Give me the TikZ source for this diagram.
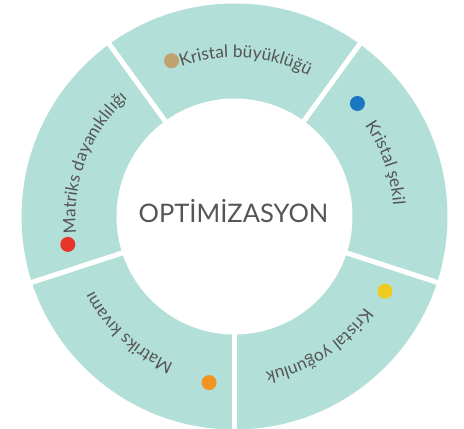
\documentclass[tikz,border=0pt]{standalone}
\usepackage{fontspec}
\setmainfont{Lato}
\usetikzlibrary{decorations.text}
\definecolor{ring}{RGB}{178,223,215}
\definecolor{labeltext}{RGB}{85,85,85}
\definecolor{tan}{RGB}{192,162,110}
\definecolor{azure}{RGB}{26,120,194}
\definecolor{sun}{RGB}{240,202,31}
\definecolor{tangerine}{RGB}{242,147,34}
\definecolor{cherry}{RGB}{232,53,42}
\newcommand\arcfont{\fontsize{17.2}{19}\selectfont\color{labeltext}}
\tikzset{
	dot/.style 2 args={circle,inner sep=0pt,minimum size=15pt,fill=#1,name=#2},
	gap/.style={white,line width=5pt},
	arclabel/.style={decorate,decoration={text along path,text={|\arcfont|#1}}}
}
\begin{document}
\begin{tikzpicture}[x=1pt,y=1pt]
	\useasboundingbox (-234.5,-212.5) rectangle (229.5,216.5);
	\fill[ring] (0,0) circle (213);
	\foreach \a in {-90,-18,54,126,198}
		\draw[gap] (0,0) -- (\a:225);
	\fill[white] (0,0) circle (118);

	\node [font=\fontsize{25.5}{28}\selectfont,text=labeltext,anchor=base] (opt) at (-1,-5.5) {OPTİMİZASYON};

	\node [dot={tan}{size}] at (112:168) {};
	\node [dot={azure}{shape}] at (42.6:167) {};
	\node [dot={sun}{density}] at (-26.4:168) {};
	\node [dot={tangerine}{texture}] at (-98.7:168) {};
	\node [dot={cherry}{strength}] at (189.5:169) {};

	\path [arclabel={Kristal büyüklüğü}] (109.5:159) arc[start angle=109.5,end angle=29,radius=159];
	\path [arclabel={Kristal şekil}] (35:159) arc[start angle=35,end angle=-45,radius=159];
	\path [arclabel={Kristal yoğunluk}] (-35:159) arc[start angle=-35,end angle=-115,radius=159];
	\path [arclabel={Matriks kıvamı}] (-112.5:159) arc[start angle=-112.5,end angle=-192.5,radius=159];
	\path [arclabel={Matriks dayanıklılığı}] (186:159) arc[start angle=186,end angle=106,radius=159];
\end{tikzpicture}
\end{document}
